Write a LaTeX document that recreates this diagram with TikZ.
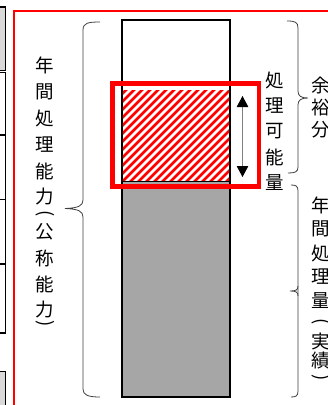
\documentclass[tikz,border=0pt]{standalone}
\usepackage{fontspec}
\newfontfamily\jp{Noto Sans CJK JP}
\usetikzlibrary{arrows.meta}
\definecolor{lgray}{HTML}{D9D9D9}
\definecolor{mgray}{HTML}{A6A6A6}
\definecolor{hred}{HTML}{FF0000}
\definecolor{shaft}{HTML}{808080}
\begin{document}
\begin{tikzpicture}[x=1pt,y=-1pt,
  jtxt/.style={font=\jp\fontsize{18.5}{18.5}\selectfont, inner sep=0pt, anchor=center},
  brc/.style={draw=black!75, line width=0.8pt},
  stripbox/.style={line width=1.6pt},
  hatchline/.style={hred, line width=2.8pt},
  dblarrow/.style={shaft, line width=1pt,
    {Triangle[length=11pt,width=11.5pt,color=black]}-{Triangle[length=11pt,width=11.5pt,color=black]}}]
\useasboundingbox (0,0) rectangle (328,405);
\clip (0,0) rectangle (328,405);
\fill[white] (0,0) rectangle (328,405);

% left strip (part of neighbouring table)
\filldraw[stripbox, fill=lgray] (-5,7) rectangle (5.5,70.5);
\draw[stripbox] (-5,72.5) rectangle (5.5,135);
\draw[stripbox] (-5,135) rectangle (5.5,199.5);
\draw[stripbox] (-5,199.5) rectangle (5.5,264);
\draw[stripbox] (-5,264) rectangle (5.5,333);
\filldraw[stripbox, fill=lgray] (-5,371.5) rectangle (5.5,420);

% red frame
\draw[hred, line width=1.2pt] (14,420) -- (14,11) -- (340,11);

% column
\fill[mgray] (122,181.5) rectangle (230,397);
\begin{scope}
  \clip (122,90) rectangle (230,181.5);
  \foreach \i in {-110,-102,...,250} \draw[hatchline] (\i,190) -- ++(110,-110);
\end{scope}
\draw[line width=1pt] (122,181.5) -- (230,181.5);
\draw[line width=1.5pt] (122,20) rectangle (230,397);
\draw[hred, line width=4.5pt] (112.5,83.5) rectangle (259,186.5);

% double arrow
\coordinate (aT) at (242.5,96);
\coordinate (aB) at (242.5,177);
\draw[dblarrow] (aT) -- (aB);

% left brace
\draw[brc] (100,22) .. controls (88,22) and (83,23) .. (83,30) -- (83,200)
  .. controls (83,206) and (78,208) .. (65,208.5)
  .. controls (78,209) and (83,211) .. (83,217) -- (83,389)
  .. controls (83,395) and (88,397) .. (100,397);

% right upper brace
\draw[brc] (287,21) .. controls (295,21) and (298,22) .. (298,28) -- (298,91)
  .. controls (298,96) and (301,98) .. (308,98)
  .. controls (301,98) and (298,100) .. (298,105) -- (298,167)
  .. controls (298,172) and (295,173) .. (288,173);

% right lower brace
\draw[brc] (291,185) .. controls (296,185) and (298,186) .. (298,191) -- (298,391)
  .. controls (298,396) and (296,397) .. (291,397);
\draw[brc] (298,286) .. controls (298,290) and (296,291) .. (290,291)
  .. controls (296,291) and (298,292) .. (298,296);

% left label
\foreach \c/\y [count=\k] in {年/65,間/91.5,処/118,理/144.5,能/171,力/197,公/232,称/258.5,能/284.5,力/310}
  \node[jtxt] (L\k) at (45,\y) {\c};
\node[jtxt,rotate=-90] (Lpo) at (45,213.5) {(};
\node[jtxt,rotate=-90] (Lpc) at (45,324) {)};

% capacity label
\foreach \c/\y [count=\k] in {処/80.5,理/106,可/131.5,能/157,量/182.5}
  \node[jtxt] (C\k) at (275,\y) {\c};

% surplus label
\foreach \c/\y [count=\k] in {余/86,裕/108,分/130}
  \node[jtxt] (S\k) at (321,\y) {\c};

% actual label
\foreach \c/\y [count=\k] in {年/205,間/229,処/253,理/277,量/301,実/341,績/361}
  \node[jtxt] (R\k) at (321,\y) {\c};
\node[jtxt,rotate=-90] (Rpo) at (321,321.5) {(};
\node[jtxt,rotate=-90] (Rpc) at (321,378) {)};
\end{tikzpicture}
\end{document}
